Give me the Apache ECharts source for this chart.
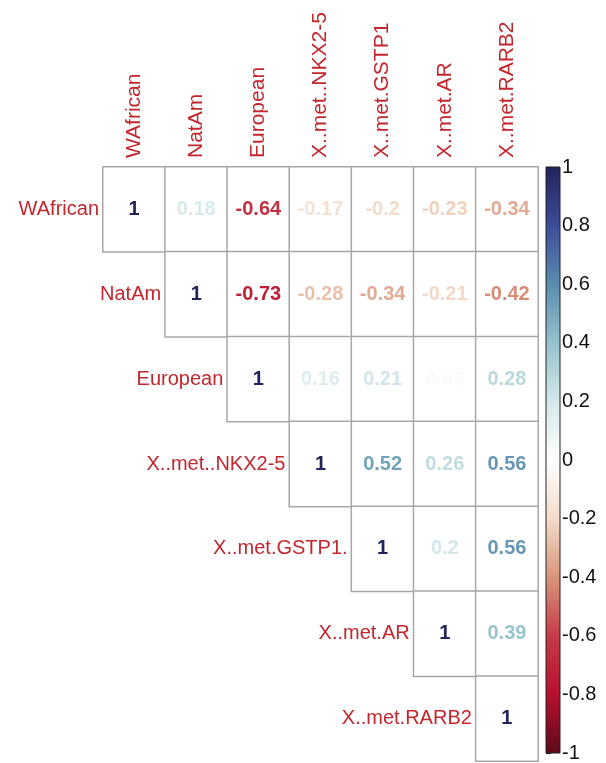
<!DOCTYPE html>
<html>
<head>
<meta charset="utf-8">
<script src="https://cdn.jsdelivr.net/npm/echarts@6/dist/echarts.min.js"></script>
<style>
  html, body { margin: 0; padding: 0; background: #fff; }
  #chart { width: 606px; height: 763px; }
</style>
</head>
<body>
<div id="chart"></div>
<script>
// variable names (rows and columns share them)
var vars = ['WAfrican', 'NatAm', 'European', 'X..met..NKX2-5', 'X..met.GSTP1', 'X..met.AR', 'X..met.RARB2'];
var rowNames = ['WAfrican', 'NatAm', 'European', 'X..met..NKX2-5', 'X..met.GSTP1.', 'X..met.AR', 'X..met.RARB2'];

// upper triangle of the correlation matrix, row by row (from the diagonal)
var corrRows = [
    [1, 0.18, -0.64, -0.17, -0.2, -0.23, -0.34],
    [1, -0.73, -0.28, -0.34, -0.21, -0.42],
    [1, 0.16, 0.21, 0.03, 0.28],
    [1, 0.52, 0.26, 0.56],
    [1, 0.2, 0.56],
    [1, 0.39],
    [1]
];

// colour bar ticks
var barTicks = [-1, -0.8, -0.6, -0.4, -0.2, 0, 0.2, 0.4, 0.6, 0.8, 1];

// palette stops (value -> colour)
var palette = [
    [-1, '#5c0a1a'], [-0.8, '#b8102e'], [-0.6, '#c43a48'], [-0.4, '#d9957a'],
    [-0.2, '#f3dcca'], [0, '#ffffff'], [0.2, '#d3e8ea'], [0.4, '#95c2cc'],
    [0.6, '#5a8cae'], [0.8, '#3d4c9a'], [1, '#22235a']
];

function hexToRgb(h) {
    return [parseInt(h.substr(1, 2), 16), parseInt(h.substr(3, 2), 16), parseInt(h.substr(5, 2), 16)];
}
function colorOf(v) {
    for (var k = 0; k < palette.length - 1; k++) {
        var a = palette[k], b = palette[k + 1];
        if (v >= a[0] && v <= b[0]) {
            var t = (v - a[0]) / (b[0] - a[0]);
            var ca = hexToRgb(a[1]), cb = hexToRgb(b[1]);
            var c = ca.map(function (x, n) { return Math.round(x + (cb[n] - x) * t); });
            return 'rgb(' + c.join(',') + ')';
        }
    }
    return palette[palette.length - 1][1];
}

var labelRed = '#c1272d';
var font = '"Liberation Sans", Arial, sans-serif';

var cellData = [];
corrRows.forEach(function (row, i) {
    row.forEach(function (v, k) {
        var j = i + k;
        cellData.push({
            value: [j, i, v],
            label: { color: colorOf(v) }
        });
    });
});

var rowLabelData = rowNames.map(function (name, i) { return [i, i, name]; });

var chart = echarts.init(document.getElementById('chart'));

var option = {
    backgroundColor: '#fff',
    animation: false,
    grid: [
        { left: 103, right: 68, top: 167, bottom: 2 },
        { left: 546, width: 14, top: 167, bottom: 2 }
    ],
    xAxis: [
        {
            type: 'category',
            gridIndex: 0,
            data: vars,
            position: 'top',
            axisLine: { show: false },
            axisTick: { show: false },
            splitLine: { show: false },
            axisLabel: {
                rotate: -90,
                margin: 9,
                fontSize: 21,
                fontFamily: font,
                color: labelRed,
                interval: 0
            }
        },
        {
            type: 'value',
            gridIndex: 1,
            min: 0,
            max: 1,
            show: false
        }
    ],
    yAxis: [
        {
            type: 'category',
            gridIndex: 0,
            data: rowNames,
            inverse: true,
            show: false
        },
        {
            type: 'value',
            gridIndex: 1,
            min: -1,
            max: 1,
            interval: 0.2,
            position: 'right',
            axisLine: { show: false },
            splitLine: { show: false },
            axisTick: { show: true, length: 5, lineStyle: { color: '#222', width: 1.2 } },
            axisLabel: {
                margin: 2,
                fontSize: 20,
                fontFamily: font,
                color: '#111',
                customValues: barTicks
            }
        }
    ],
    series: [
        {
            type: 'heatmap',
            xAxisIndex: 0,
            yAxisIndex: 0,
            data: cellData,
            itemStyle: {
                color: '#ffffff',
                borderColor: '#a8a8a8',
                borderWidth: 1.5
            },
            label: {
                show: true,
                fontSize: 20,
                fontWeight: 'bold',
                fontFamily: font,
                formatter: function (p) { return String(p.value[2]); }
            },
            emphasis: { disabled: true }
        },
        {
            type: 'custom',
            xAxisIndex: 0,
            yAxisIndex: 0,
            data: rowLabelData,
            silent: true,
            renderItem: function (params, api) {
                var c = api.coord([api.value(0), api.value(1)]);
                var s = api.size([1, 1]);
                return {
                    type: 'text',
                    style: {
                        x: c[0] - s[0] / 2 - 4,
                        y: c[1],
                        text: rowNames[api.value(1)],
                        align: 'right',
                        verticalAlign: 'middle',
                        fontSize: 20,
                        fontFamily: font,
                        fill: labelRed
                    }
                };
            }
        },
        {
            type: 'custom',
            xAxisIndex: 1,
            yAxisIndex: 1,
            data: [[0, 1, -1]],
            silent: true,
            renderItem: function (params, api) {
                var top = api.coord([api.value(0), api.value(1)]);
                var bot = api.coord([1, api.value(2)]);
                var stops = palette.slice().reverse().map(function (p) {
                    return { offset: (1 - p[0]) / 2, color: p[1] };
                });
                return {
                    type: 'rect',
                    shape: { x: top[0], y: top[1], width: bot[0] - top[0], height: bot[1] - top[1] },
                    style: {
                        fill: new echarts.graphic.LinearGradient(0, 0, 0, 1, stops),
                        stroke: '#222',
                        lineWidth: 1
                    }
                };
            }
        }
    ]
};

chart.setOption(option);
</script>
</body>
</html>
